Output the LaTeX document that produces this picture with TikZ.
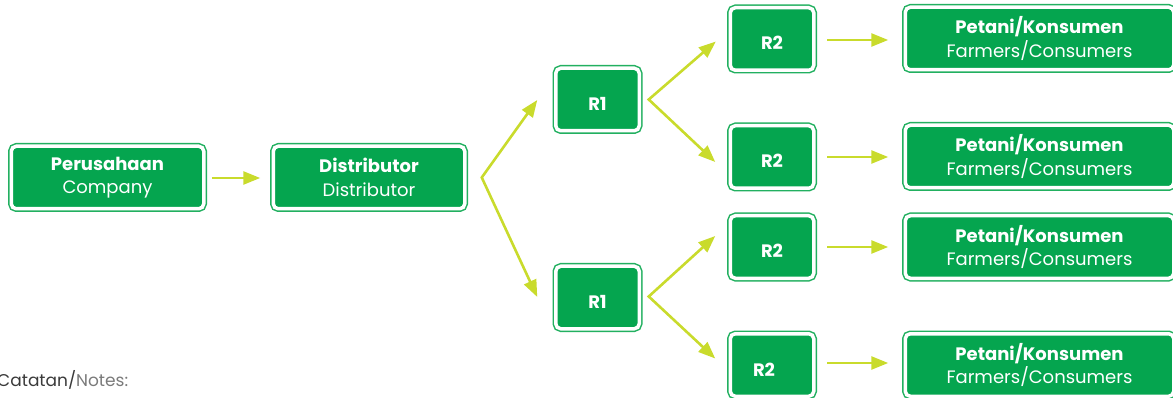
\documentclass[tikz,border=0pt]{standalone}
\usepackage{fontspec}
\setmainfont{Poppins}
\usetikzlibrary{arrows.meta,calc}
\definecolor{boxgreen}{HTML}{05A54F}
\definecolor{ringgreen}{HTML}{22B060}
\definecolor{arrowcol}{HTML}{C9DB2C}
\definecolor{notedark}{HTML}{3A3A3A}
\definecolor{notelight}{HTML}{7A7A7A}
\begin{document}
\begin{tikzpicture}[x=1pt,y=-1pt,
  box/.style={rectangle, rounded corners=5pt, fill=boxgreen, draw=white, line width=3.5pt,
    preaction={draw=ringgreen, line width=6.5pt}, inner sep=0pt, outer sep=0pt,
    text=white, align=center, font=\fontsize{18}{23.5}\selectfont},
  widebox/.style={box, minimum width=192.5pt, minimum height=62.5pt},
  smallbox/.style={box, minimum width=83.5pt, minimum height=62.5pt, font=\fontsize{18}{23}\selectfont\bfseries, text height=22pt, text depth=0pt},
  endbox/.style={box, minimum width=268.5pt, minimum height=62.5pt},
  arr/.style={draw=arrowcol, line width=2.6pt, -{Triangle[length=17pt,width=13pt]}},
  darr/.style={draw=arrowcol, line width=2.6pt, {Triangle[length=17pt,width=13pt]}-{Triangle[length=17pt,width=13pt]}, line join=miter}
]
\useasboundingbox (0,0) rectangle (1173,398);

% main boxes
\node[widebox] (company) at (107.5,177.5) {\textbf{Perusahaan}\\Company};
\node[widebox, minimum width=191.5pt] (distributor) at (369,177.5) {\textbf{Distributor}\\Distributor};
\node[smallbox] (r1a) at (597.5,99.5) {R1};
\node[smallbox] (r1b) at (597.5,297.5) {R1};
\node[smallbox] (r2a) at (772,39) {R2};
\node[smallbox] (r2b) at (772,157) {R2};
\node[smallbox] (r2c) at (772,247) {R2};
\node[smallbox] (r2d) at (772,365) {R2\hspace*{16pt}};
\node[endbox] (fa) at (1039.5,38.5) {\textbf{Petani/Konsumen}\\Farmers/Consumers};
\node[endbox] (fb) at (1039.5,156.5) {\textbf{Petani/Konsumen}\\Farmers/Consumers};
\node[endbox] (fc) at (1039.5,247) {\textbf{Petani/Konsumen}\\Farmers/Consumers};
\node[endbox] (fd) at (1039.5,365) {\textbf{Petani/Konsumen}\\Farmers/Consumers};

% branch points and arrow tips
\coordinate (dv) at ($(distributor.east)+(17,0)$);
\coordinate (t1a) at ($(r1a.west)+(-18.5,0.5)$);
\coordinate (t1b) at ($(r1b.west)+(-18.5,-0.5)$);
\coordinate (v1a) at ($(r1a.east)+(9.5,0)$);
\coordinate (v1b) at ($(r1b.east)+(9.5,-1)$);
\coordinate (t2a) at ($(r2a.west)+(-14.5,2.5)$);
\coordinate (t2b) at ($(r2b.west)+(-15,5)$);
\coordinate (t2c) at ($(r2c.west)+(-15,-11)$);
\coordinate (t2d) at ($(r2d.west)+(-15,-6.5)$);

% connectors
\draw[arr] ($(company.east)+(8,0.5)$) -- ($(distributor.west)+(-13,0.5)$);
\draw[darr] (t1a) -- (dv) -- (t1b);
\draw[darr] (t2a) -- (v1a) -- (t2b);
\draw[darr] (t2c) -- (v1b) -- (t2d);
\draw[arr] ($(r2a.east)+(13.5,1)$) -- ($(fa.west)+(-17,1.5)$);
\draw[arr] ($(r2b.east)+(13.5,0)$) -- ($(fb.west)+(-17,0.5)$);
\draw[arr] ($(r2c.east)+(13.5,0)$) -- ($(fc.west)+(-17,0)$);
\draw[arr] ($(r2d.east)+(13.5,-2)$) -- ($(fd.west)+(-17,-2)$);

% notes
\node[anchor=base west, inner sep=0pt, font=\fontsize{17}{19}\selectfont] (notes) at (-3,386)
  {\textcolor{notedark}{Catatan/}\textcolor{notelight}{Notes:}};
\end{tikzpicture}
\end{document}
